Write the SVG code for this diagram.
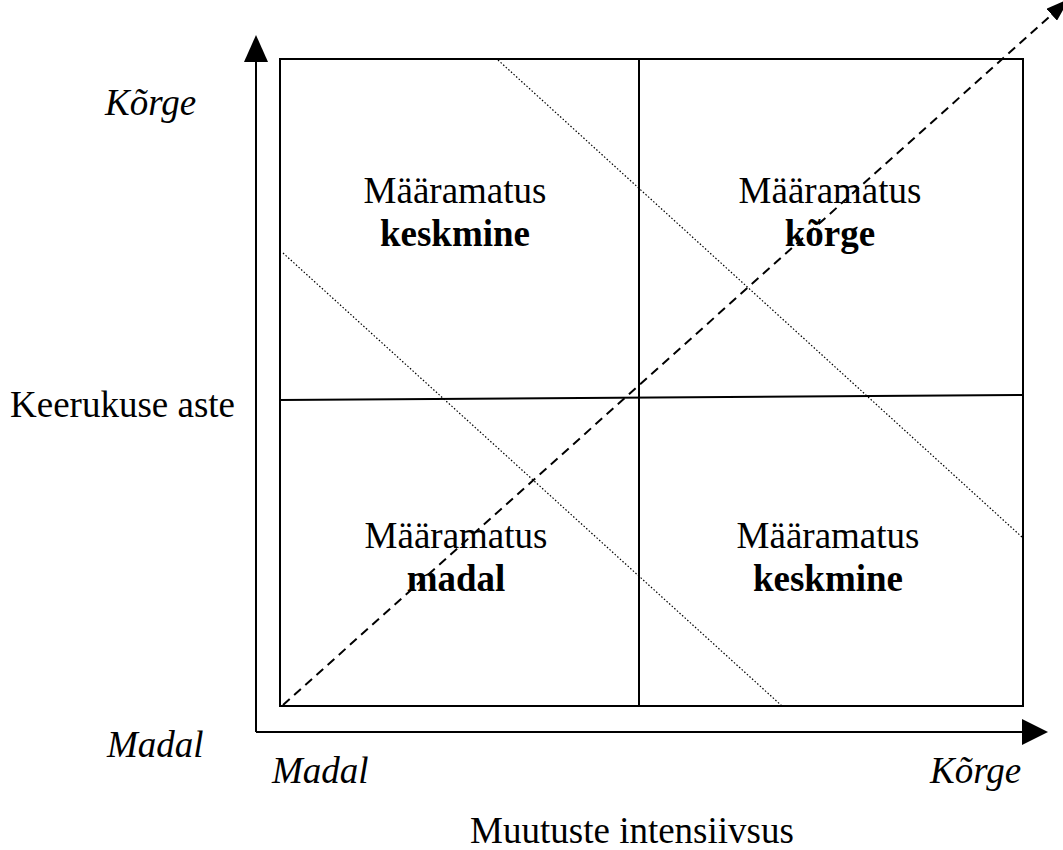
<svg xmlns="http://www.w3.org/2000/svg" width="1063" height="850" viewBox="0 0 1063 850">
<style>
.ln{stroke:#000;stroke-width:2;fill:none}
.dot{stroke:#000;stroke-width:1.2;stroke-dasharray:1.5 2;fill:none}
.dash{stroke:#000;stroke-width:2;stroke-dasharray:9 6;fill:none}
text{font-family:"Liberation Serif","Times New Roman","DejaVu Serif",serif;font-size:37px;fill:#000}
.it{font-style:italic}
.b{font-weight:bold}
.c{text-anchor:middle}
</style>
<defs>
<marker id="ah" markerWidth="24" markerHeight="16" refX="22" refY="8" orient="auto" markerUnits="userSpaceOnUse">
<path d="M0,0 L24,8 L0,16 Z" fill="#000"/>
</marker>
</defs>
<rect width="1063" height="850" fill="#fff"/>
<g id="connectors">
<line class="ln" x1="256" y1="732" x2="256" y2="60"/>
<path d="M256,35 L244,62 L268,62 Z" fill="#000"/>
<line class="ln" x1="256" y1="732" x2="1024" y2="732"/>
<path d="M1048,732 L1022,719 L1022,745 Z" fill="#000"/>
<line class="dot" x1="498" y1="60" x2="1023" y2="538"/>
<line class="dot" x1="283" y1="253" x2="782" y2="706"/>
<line class="dash" x1="283" y1="705" x2="1068" y2="0" marker-end="url(#ah)"/>
</g>
<g id="grid">
<rect class="ln" x="280" y="59" width="743" height="647"/>
<line class="ln" x1="639" y1="59" x2="639" y2="706"/>
<line class="ln" x1="280" y1="400" x2="1023" y2="395"/>
</g>
<g id="q-top-left">
<text class="c" x="455" y="203">Määramatus</text>
<text class="c b" x="455" y="246">keskmine</text>
</g>
<g id="q-top-right">
<text class="c" x="830" y="203">Määramatus</text>
<text class="c b" x="830" y="246">kõrge</text>
</g>
<g id="q-bottom-left">
<text class="c" x="456" y="548">Määramatus</text>
<text class="c b" x="456" y="591">madal</text>
</g>
<g id="q-bottom-right">
<text class="c" x="828" y="548">Määramatus</text>
<text class="c b" x="828" y="591">keskmine</text>
</g>
<g id="labels">
<text class="it" x="105" y="115">Kõrge</text>
<text x="10" y="417">Keerukuse aste</text>
<text class="it" x="107" y="757">Madal</text>
<text class="it" x="272" y="783">Madal</text>
<text class="it" x="930" y="783">Kõrge</text>
<text class="c" x="632" y="843">Muutuste intensiivsus</text>
</g>
</svg>
